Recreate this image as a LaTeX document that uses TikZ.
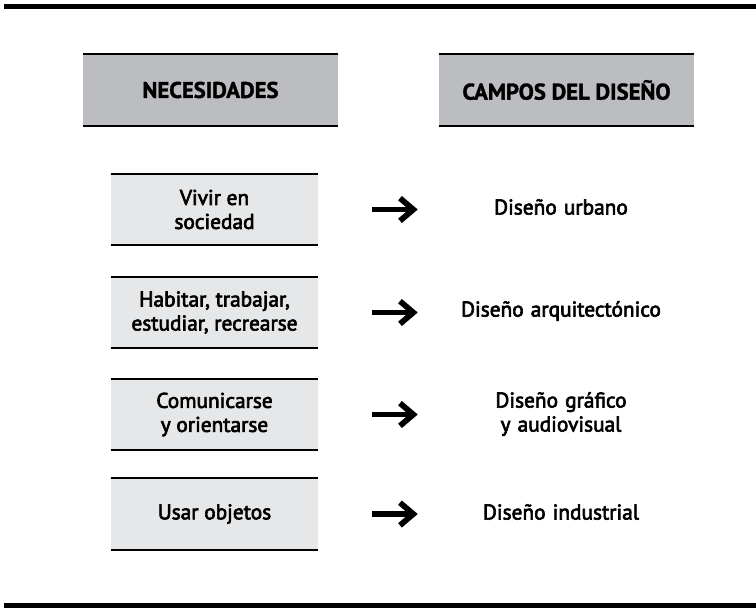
\documentclass[tikz,border=0pt]{standalone}
\usepackage{fontspec}
\setmainfont{PT Sans}
\newfontfamily\medio[FakeBold=3]{PT Sans}
\newfontfamily\negra[BoldFeatures={FakeBold=1.5}]{PT Sans}
\usetikzlibrary{arrows.meta}

\definecolor{grisfuerte}{HTML}{BCBDC0}
\definecolor{grisclaro}{HTML}{E6E7E8}

\tikzset{
  cabecera/.style={fill=grisfuerte, inner sep=0pt, minimum width=191.25pt, minimum height=54pt,
    font=\negra\fontsize{17}{20}\selectfont\bfseries},
  necesidad/.style={fill=grisclaro, inner sep=0pt, minimum width=155.25pt, minimum height=53.25pt,
    align=center, font=\medio\fontsize{16}{18}\selectfont},
  campo/.style={inner sep=0pt, text width=150pt, align=center, font=\medio\fontsize{16}{18}\selectfont},
  borde/.style={line width=1.6pt},
  flecha/.style={line width=4.3pt, -{Straight Barb[length=10pt,width=17pt]},
    shorten <=40.5pt, shorten >=32.25pt}
}

\begin{document}
\begin{tikzpicture}[x=0.75pt,y=-0.75pt]
  \useasboundingbox (0,0) rectangle (756,608);

  % barras
  \fill (4,4) rectangle (756,9);
  \fill (4,603) rectangle (756,608);

  % cabeceras
  \node[cabecera] (nec) at (210.5,90) {NECESIDADES};
  \node[cabecera] (cam) at (566.5,90) {CAMPOS DEL DISEÑO};

  % necesidades
  \node[necesidad] (n1) at (214.5,209.5) {Vivir en\\sociedad};
  \node[necesidad] (n2) at (214.5,312.5) {Habitar, trabajar,\\estudiar, recrearse};
  \node[necesidad] (n3) at (214.5,414.5) {Comunicarse\\y orientarse};
  \node[necesidad] (n4) at (214.5,514) {Usar objetos};

  % campos
  \node[campo] (c1) at (561,207) {Diseño urbano};
  \node[campo] (c2) at (561,311) {Diseño arquitectónico};
  \node[campo] (c3) at (561,414) {Diseño gráfico\\y audiovisual};
  \node[campo] (c4) at (561,512) {Diseño industrial};

  % lineas arriba y abajo
  \foreach \n in {nec,cam,n1,n2,n3,n4} {
    \draw[borde] (\n.north west) -- (\n.north east);
    \draw[borde] (\n.south west) -- (\n.south east);
  }

  % flechas
  \foreach \i in {1,2,3,4}
    \draw[flecha] (n\i.east) -- (n\i.east -| c\i.west);
\end{tikzpicture}
\end{document}
